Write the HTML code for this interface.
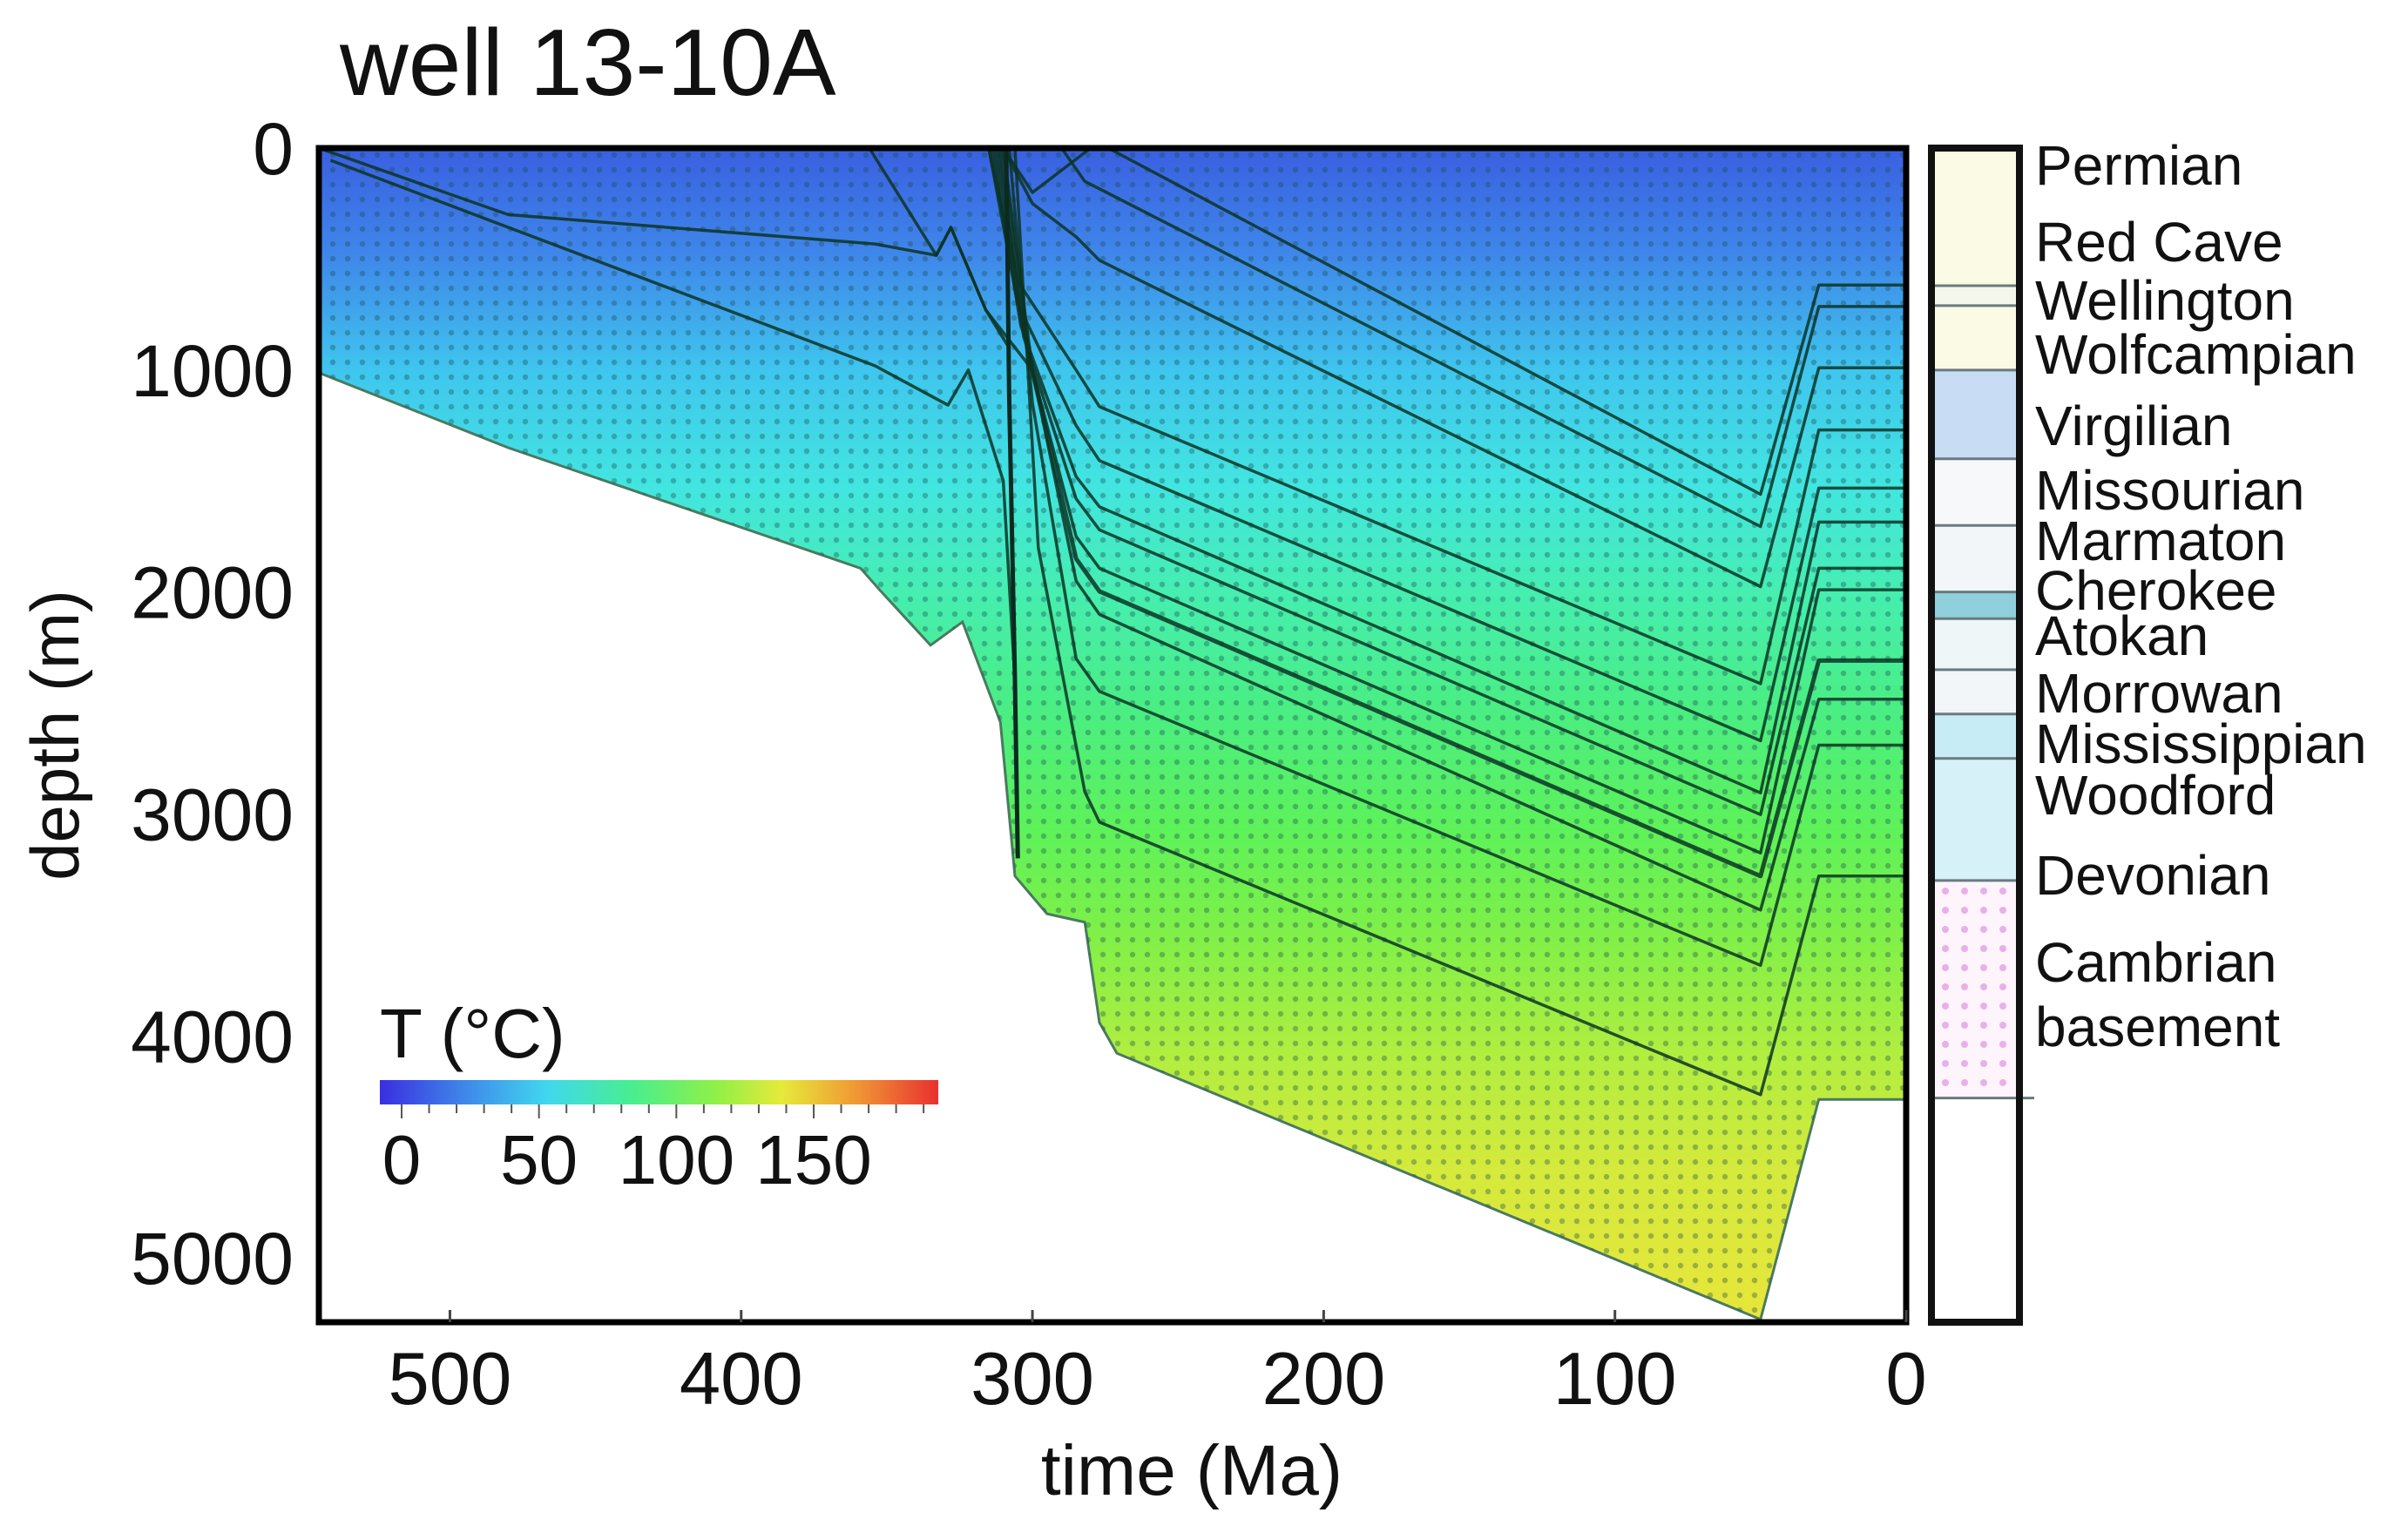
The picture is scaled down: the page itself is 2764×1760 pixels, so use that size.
<!DOCTYPE html>
<html><head><meta charset="utf-8">
<style>
html,body{margin:0;padding:0;background:#fff;}
svg{display:block;font-family:"Liberation Sans",sans-serif;}
</style></head>
<body>
<svg id="chart" width="2764" height="1760" viewBox="0 0 2764 1760" xmlns="http://www.w3.org/2000/svg">
<defs>
<linearGradient id="tempFill" x1="0" y1="170" x2="0" y2="1518" gradientUnits="userSpaceOnUse">
<stop offset="0" stop-color="#3a5fe0"/>
<stop offset="0.09" stop-color="#3f86ea"/>
<stop offset="0.19" stop-color="#3fc6ee"/>
<stop offset="0.29" stop-color="#42e6e0"/>
<stop offset="0.38" stop-color="#46eeb0"/>
<stop offset="0.48" stop-color="#4aee82"/>
<stop offset="0.58" stop-color="#5ef25a"/>
<stop offset="0.67" stop-color="#80f048"/>
<stop offset="0.77" stop-color="#b0ee40"/>
<stop offset="0.87" stop-color="#d4ea3c"/>
<stop offset="1" stop-color="#e8e63a"/>
</linearGradient>
<linearGradient id="cbarGrad" x1="0" y1="0" x2="1" y2="0">
<stop offset="0" stop-color="#3a2ee0"/>
<stop offset="0.15" stop-color="#3f86ea"/>
<stop offset="0.3" stop-color="#40d8ee"/>
<stop offset="0.45" stop-color="#48ee90"/>
<stop offset="0.6" stop-color="#8ef048"/>
<stop offset="0.72" stop-color="#e6ea3a"/>
<stop offset="0.85" stop-color="#f09a34"/>
<stop offset="1" stop-color="#e83030"/>
</linearGradient>
<pattern id="dots" width="17" height="17" patternUnits="userSpaceOnUse">
<circle cx="8" cy="8" r="3.2" fill="#1a4a50" opacity="0.36"/>
</pattern>
<pattern id="pinkdots" width="22" height="22" patternUnits="userSpaceOnUse">
<rect width="22" height="22" fill="#fdf4fc"/>
<circle cx="11" cy="11" r="4" fill="#e8b0e8"/>
</pattern>
<clipPath id="plotClip"><rect x="366" y="170" width="1822" height="1348"/></clipPath>
</defs>
<text x="390" y="109" font-size="109" fill="#111">well 13-10A</text>
<g id="plot" clip-path="url(#plotClip)"></g>
<rect x="366" y="170" width="1822" height="1348" fill="none" stroke="#000" stroke-width="7"/>
<g id="xticks"></g>
<g id="yticks"></g>
<text x="1368" y="1716" font-size="82" text-anchor="middle" fill="#111">time (Ma)</text>
<text transform="translate(90,844) rotate(-90)" font-size="78" text-anchor="middle" fill="#111">depth (m)</text>
<g id="colorbar">
<text x="436" y="1214" font-size="80" fill="#111">T (°C)</text>
<rect x="436" y="1240" width="641" height="28" fill="url(#cbarGrad)"/>
</g>
<g id="legendcol"></g>
<rect x="2217" y="170" width="101" height="1348" fill="none" stroke="#111" stroke-width="8"/>
<g id="labels"></g>
</svg>
<script>
// ---- data ----
const xTicks = [500, 400, 300, 200, 100, 0];
const yTicks = [0, 1000, 2000, 3000, 4000, 5000];
const cbarTicks = [0, 50, 100, 150];
const cbarMax = 190;
const basementTimes = [545, 480, 359, 352, 335, 324, 311, 306, 295, 282, 277, 271, 50, 30, 0];
const basementDepths = [1012, 1350, 1893, 1997, 2240, 2135, 2587, 3280, 3450, 3488, 3940, 4078, 5277, 4286, 4286];
const horizonTimes = [
  [545, 480, 354, 333, 328, 316, 308],
  [541, 354, 329, 322, 310, 306],
  [356, 333, 328, 316, 300],
  [310, 300, 280, 274, 50, 30, 0],
  [290, 282, 50, 30, 0],
  [310, 300, 285, 277, 50, 30, 0],
  [315, 305, 285, 277, 50, 30, 0],
  [315, 305, 285, 277, 50, 30, 0],
  [314, 304, 285, 277, 50, 30, 0],
  [313, 303, 285, 277, 50, 30, 0],
  [312, 302, 285, 277, 50, 30, 0],
  [311, 301, 285, 277, 50, 30, 0],
  [310, 300, 285, 277, 50, 30, 0],
  [308, 300, 285, 277, 50, 30, 0],
  [306, 298, 282, 277, 50, 30, 0]
];
const horizonDepths = [
  [0, 300, 432, 483, 357, 730, 900],
  [55, 981, 1158, 1000, 1500, 2400],
  [0, 483, 357, 730, 1000],
  [0, 200, 0, 0, 1560, 617, 617],
  [0, 150, 1705, 714, 714],
  [0, 250, 400, 506, 1976, 990, 990],
  [0, 600, 1000, 1165, 2413, 1270, 1270],
  [0, 700, 1250, 1408, 2670, 1532, 1532],
  [0, 800, 1480, 1616, 2905, 1685, 1685],
  [0, 850, 1580, 1720, 3003, 1893, 1893],
  [0, 900, 1750, 1893, 3176, 1990, 1990],
  [0, 950, 1850, 1997, 3280, 2309, 2309],
  [0, 1000, 1950, 2101, 3433, 2483, 2483],
  [0, 1150, 2300, 2448, 3682, 2690, 2690],
  [0, 1800, 2900, 3037, 4265, 3280, 3280]
];
const horizonWidths = [3.5, 3.5, 3.5, 3.5, 3.5, 3.5, 3.5, 3.5, 3.5, 3.5, 3.5, 5, 3.5, 3.5, 3.5];
const formationNames = ["Permian","Red Cave","Wellington","Wolfcampian","Virgilian","Missourian","Marmaton","Cherokee","Atokan","Morrowan","Mississippian","Woodford","Devonian","Cambrian","basement"];
const formationLabelY = [190, 278, 345, 407, 489, 563, 621, 678, 730, 796, 854, 913, 1005, 1105, 1179];
const bandTops = [0, 620, 710, 1000, 1400, 1700, 2000, 2120, 2350, 2550, 2750, 3300, 4280];
const bandBottoms = [620, 710, 1000, 1400, 1700, 2000, 2120, 2350, 2550, 2750, 3300, 4280, 5290];
const bandColors = ["#fbfae4","#f4f8ec","#fbfae4","#c8dcf4","#f6f8fa","#f2f6f8","#8fd0dc","#eef6f8","#f2f6f8","#c8ecf6","#d6f2f8","url(#pinkdots)","#ffffff"];

// ---- scales ----
const X0 = 366, X1 = 2188, Y0 = 170, Y1 = 1518, TMAX = 545, DMAX = 5290;
const LX = 2217;
function xS(t){ return X0 + (TMAX - t) / TMAX * (X1 - X0); }
function yS(d){ return Y0 + d / DMAX * (Y1 - Y0); }
const NS = "http://www.w3.org/2000/svg";
function mk(tag, attrs, parent){
  const e = document.createElementNS(NS, tag);
  for (const k in attrs) e.setAttribute(k, attrs[k]);
  parent.appendChild(e);
  return e;
}

const plot = document.getElementById('plot');
let pts = [[xS(TMAX), yS(0)], [xS(0), yS(0)]];
for (let i = basementTimes.length - 1; i >= 0; i--) pts.push([xS(basementTimes[i]), yS(basementDepths[i])]);
const ptsStr = pts.map(p => p[0].toFixed(1) + ',' + p[1].toFixed(1)).join(' ');
const poly = mk('polygon', {points: ptsStr, fill: 'url(#tempFill)', stroke: '#4a7a60', 'stroke-width': 3}, plot);


const dotPoly = mk('polygon', {points: ptsStr, fill: 'url(#dots)'}, plot);



for (let h = 0; h < horizonTimes.length; h++){
  const s = horizonTimes[h].map((t, i) => xS(t).toFixed(1) + ',' + yS(horizonDepths[h][i]).toFixed(1)).join(' ');
  const pl = mk('polyline', {points: s, fill: 'none', stroke: '#0c3424', 'stroke-opacity': 0.85, 'stroke-width': horizonWidths[h], 'stroke-linejoin': 'round'}, plot);
  
  
}
const vl = mk('polyline', {points: [[309,0],[308,1100],[306,2400],[305,3200]].map(p => xS(p[0]).toFixed(1)+','+yS(p[1]).toFixed(1)).join(' '), fill:'none', stroke:'#0a2a20', 'stroke-width':5}, plot);



const xg = document.getElementById('xticks');
xTicks.forEach(t => {
  const tk = mk('line', {x1: xS(t), x2: xS(t), y1: Y1, y2: Y1 - 14, stroke: '#444', 'stroke-width': 3}, xg);
  
  
  const lb = mk('text', {x: xS(t), y: 1612, 'font-size': 85, 'text-anchor': 'middle', fill: '#111'}, xg);
  lb.textContent = t;
  
  
});
const yg = document.getElementById('yticks');
yTicks.forEach(d => {
  const lb = mk('text', {x: 337, y: yS(d) + 30, 'font-size': 84, 'text-anchor': 'end', fill: '#111'}, yg);
  lb.textContent = d;
  
  
});
const cg = document.getElementById('colorbar');
const CB0 = 436, CB1 = 1077;
for (let v = 0; v <= cbarMax; v += 10){
  const x = CB0 + 25 + v / 150 * (934 - 461);
  if (x > CB1) break;
  const tk = mk('line', {x1: x, x2: x, y1: 1268, y2: v % 50 === 0 ? 1284 : 1278, stroke: '#555', 'stroke-width': 2}, cg);
  
  
}
cbarTicks.forEach(v => {
  const lb = mk('text', {x: 461 + v / 150 * (934 - 461), y: 1359, 'font-size': 80, 'text-anchor': 'middle', fill: '#111'}, cg);
  lb.textContent = v;
  
  
});
const lc = document.getElementById('legendcol');
for (let i = 0; i < bandTops.length; i++){
  const r = mk('rect', {x: LX, y: yS(bandTops[i]), width: 101, height: yS(bandBottoms[i]) - yS(bandTops[i]), fill: bandColors[i]}, lc);
  
  
  if (i > 0){
    const ln = mk('line', {x1: LX, x2: i === 12 ? LX + 118 : LX + 101, y1: yS(bandTops[i]), y2: yS(bandTops[i]), stroke: '#6a7a80', 'stroke-width': 3}, lc);
    
    
  }
}
const lg = document.getElementById('labels');
formationNames.forEach((n, i) => {
  const t = mk('text', {x: 2336, y: formationLabelY[i] + 22, 'font-size': 64, fill: '#111'}, lg);
  t.textContent = n;
  
  
});
</script>
</body></html>
